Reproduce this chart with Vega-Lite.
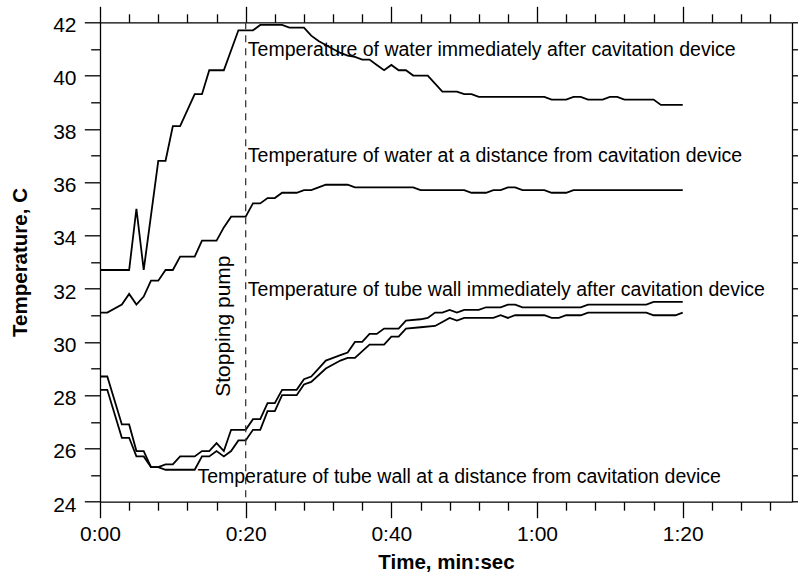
{
  "$schema": "https://vega.github.io/schema/vega-lite/v6.json",
  "width": 692,
  "height": 479.4,
  "autosize": {"type": "none"},
  "padding": {"left": 100, "top": 22.3, "right": 6, "bottom": 71.3},
  "background": "white",
  "config": {
    "view": {"stroke": null},
    "font": "Liberation Sans",
    "axis": {
      "grid": false,
      "labelFlush": false,
      "labelOverlap": false,
      "domainColor": "black",
      "domainWidth": 1.3,
      "tickColor": "black",
      "tickWidth": 1.3,
      "labelColor": "black",
      "labelFont": "Liberation Sans",
      "labelFontSize": 21,
      "titleFont": "Liberation Sans",
      "titleFontSize": 20.5,
      "titleFontWeight": "bold",
      "titleColor": "black"
    }
  },
  "datasets": {
    "series": [
      {"s": "W1", "t": 0, "v": 32.7}, {"s": "W1", "t": 4, "v": 32.7}, {"s": "W1", "t": 5, "v": 35.0}, {"s": "W1", "t": 6, "v": 32.7},
      {"s": "W1", "t": 8, "v": 36.8}, {"s": "W1", "t": 9, "v": 36.8}, {"s": "W1", "t": 10, "v": 38.1}, {"s": "W1", "t": 11, "v": 38.1},
      {"s": "W1", "t": 13, "v": 39.3}, {"s": "W1", "t": 14, "v": 39.3}, {"s": "W1", "t": 15, "v": 40.2}, {"s": "W1", "t": 17, "v": 40.2},
      {"s": "W1", "t": 19, "v": 41.7}, {"s": "W1", "t": 21, "v": 41.7}, {"s": "W1", "t": 22, "v": 41.9}, {"s": "W1", "t": 25, "v": 41.9},
      {"s": "W1", "t": 26, "v": 41.8}, {"s": "W1", "t": 28, "v": 41.8}, {"s": "W1", "t": 29, "v": 41.5}, {"s": "W1", "t": 30, "v": 41.3},
      {"s": "W1", "t": 31, "v": 41.15}, {"s": "W1", "t": 32, "v": 41.0}, {"s": "W1", "t": 33, "v": 40.85}, {"s": "W1", "t": 34, "v": 40.75},
      {"s": "W1", "t": 35, "v": 40.7}, {"s": "W1", "t": 36, "v": 40.6}, {"s": "W1", "t": 37, "v": 40.6}, {"s": "W1", "t": 38, "v": 40.4},
      {"s": "W1", "t": 39, "v": 40.2}, {"s": "W1", "t": 40, "v": 40.4}, {"s": "W1", "t": 41, "v": 40.2}, {"s": "W1", "t": 42, "v": 40.2},
      {"s": "W1", "t": 43, "v": 40.0}, {"s": "W1", "t": 45, "v": 40.0}, {"s": "W1", "t": 47, "v": 39.4}, {"s": "W1", "t": 49, "v": 39.4},
      {"s": "W1", "t": 50, "v": 39.3}, {"s": "W1", "t": 51, "v": 39.3}, {"s": "W1", "t": 52, "v": 39.2}, {"s": "W1", "t": 61, "v": 39.2},
      {"s": "W1", "t": 62, "v": 39.1}, {"s": "W1", "t": 64, "v": 39.1}, {"s": "W1", "t": 65, "v": 39.2}, {"s": "W1", "t": 66, "v": 39.2},
      {"s": "W1", "t": 67, "v": 39.1}, {"s": "W1", "t": 69, "v": 39.1}, {"s": "W1", "t": 70, "v": 39.2}, {"s": "W1", "t": 71, "v": 39.2},
      {"s": "W1", "t": 72, "v": 39.1}, {"s": "W1", "t": 76, "v": 39.1}, {"s": "W1", "t": 77, "v": 38.9}, {"s": "W1", "t": 80, "v": 38.9},

      {"s": "W2", "t": 0, "v": 31.1}, {"s": "W2", "t": 1, "v": 31.1}, {"s": "W2", "t": 3, "v": 31.4}, {"s": "W2", "t": 4, "v": 31.8},
      {"s": "W2", "t": 5, "v": 31.4}, {"s": "W2", "t": 6, "v": 31.7}, {"s": "W2", "t": 7, "v": 32.3}, {"s": "W2", "t": 8, "v": 32.3},
      {"s": "W2", "t": 9, "v": 32.7}, {"s": "W2", "t": 10, "v": 32.7}, {"s": "W2", "t": 11, "v": 33.2}, {"s": "W2", "t": 13, "v": 33.2},
      {"s": "W2", "t": 14, "v": 33.8}, {"s": "W2", "t": 16, "v": 33.8}, {"s": "W2", "t": 17, "v": 34.3}, {"s": "W2", "t": 18, "v": 34.7},
      {"s": "W2", "t": 20, "v": 34.7}, {"s": "W2", "t": 21, "v": 35.2}, {"s": "W2", "t": 22, "v": 35.2}, {"s": "W2", "t": 23, "v": 35.4},
      {"s": "W2", "t": 24, "v": 35.4}, {"s": "W2", "t": 25, "v": 35.6}, {"s": "W2", "t": 27, "v": 35.6}, {"s": "W2", "t": 28, "v": 35.7},
      {"s": "W2", "t": 29, "v": 35.7}, {"s": "W2", "t": 30, "v": 35.8}, {"s": "W2", "t": 31, "v": 35.9}, {"s": "W2", "t": 34, "v": 35.9},
      {"s": "W2", "t": 35, "v": 35.8}, {"s": "W2", "t": 43, "v": 35.8}, {"s": "W2", "t": 44, "v": 35.7}, {"s": "W2", "t": 50, "v": 35.7},
      {"s": "W2", "t": 51, "v": 35.6}, {"s": "W2", "t": 53, "v": 35.6}, {"s": "W2", "t": 54, "v": 35.7}, {"s": "W2", "t": 55, "v": 35.7},
      {"s": "W2", "t": 56, "v": 35.8}, {"s": "W2", "t": 57, "v": 35.8}, {"s": "W2", "t": 58, "v": 35.7}, {"s": "W2", "t": 61, "v": 35.7},
      {"s": "W2", "t": 62, "v": 35.6}, {"s": "W2", "t": 64, "v": 35.6}, {"s": "W2", "t": 65, "v": 35.7}, {"s": "W2", "t": 80, "v": 35.7},

      {"s": "TU", "t": 0, "v": 28.7}, {"s": "TU", "t": 1, "v": 28.7}, {"s": "TU", "t": 3, "v": 26.9}, {"s": "TU", "t": 4, "v": 26.9},
      {"s": "TU", "t": 5, "v": 25.9}, {"s": "TU", "t": 6, "v": 25.9}, {"s": "TU", "t": 7, "v": 25.3}, {"s": "TU", "t": 8, "v": 25.3},
      {"s": "TU", "t": 9, "v": 25.4}, {"s": "TU", "t": 10, "v": 25.4}, {"s": "TU", "t": 11, "v": 25.7}, {"s": "TU", "t": 13, "v": 25.7},
      {"s": "TU", "t": 14, "v": 25.9}, {"s": "TU", "t": 15, "v": 25.9}, {"s": "TU", "t": 16, "v": 26.2}, {"s": "TU", "t": 17, "v": 25.9},
      {"s": "TU", "t": 18, "v": 26.7}, {"s": "TU", "t": 20, "v": 26.7}, {"s": "TU", "t": 21, "v": 27.1}, {"s": "TU", "t": 22, "v": 27.1},
      {"s": "TU", "t": 23, "v": 27.7}, {"s": "TU", "t": 24, "v": 27.7}, {"s": "TU", "t": 25, "v": 28.2}, {"s": "TU", "t": 27, "v": 28.2},
      {"s": "TU", "t": 28, "v": 28.6}, {"s": "TU", "t": 29, "v": 28.7}, {"s": "TU", "t": 30, "v": 29.0}, {"s": "TU", "t": 31, "v": 29.3},
      {"s": "TU", "t": 32, "v": 29.4}, {"s": "TU", "t": 33, "v": 29.5}, {"s": "TU", "t": 34, "v": 29.6}, {"s": "TU", "t": 35, "v": 30.0},
      {"s": "TU", "t": 36, "v": 30.0}, {"s": "TU", "t": 37, "v": 30.3}, {"s": "TU", "t": 38, "v": 30.3}, {"s": "TU", "t": 39, "v": 30.5},
      {"s": "TU", "t": 41, "v": 30.5}, {"s": "TU", "t": 42, "v": 30.8}, {"s": "TU", "t": 44, "v": 30.85}, {"s": "TU", "t": 45, "v": 30.9},
      {"s": "TU", "t": 46, "v": 31.1}, {"s": "TU", "t": 47, "v": 31.1}, {"s": "TU", "t": 48, "v": 31.2}, {"s": "TU", "t": 49, "v": 31.1},
      {"s": "TU", "t": 50, "v": 31.2}, {"s": "TU", "t": 52, "v": 31.2}, {"s": "TU", "t": 53, "v": 31.3}, {"s": "TU", "t": 55, "v": 31.3},
      {"s": "TU", "t": 56, "v": 31.4}, {"s": "TU", "t": 57, "v": 31.4}, {"s": "TU", "t": 58, "v": 31.3}, {"s": "TU", "t": 66, "v": 31.3},
      {"s": "TU", "t": 67, "v": 31.4}, {"s": "TU", "t": 75, "v": 31.4}, {"s": "TU", "t": 76, "v": 31.5}, {"s": "TU", "t": 80, "v": 31.5},

      {"s": "TD", "t": 0, "v": 28.2}, {"s": "TD", "t": 1, "v": 28.2}, {"s": "TD", "t": 3, "v": 26.4}, {"s": "TD", "t": 4, "v": 26.4},
      {"s": "TD", "t": 5, "v": 25.7}, {"s": "TD", "t": 6, "v": 25.7}, {"s": "TD", "t": 7, "v": 25.3}, {"s": "TD", "t": 8, "v": 25.3},
      {"s": "TD", "t": 9, "v": 25.2}, {"s": "TD", "t": 13, "v": 25.2}, {"s": "TD", "t": 14, "v": 25.7}, {"s": "TD", "t": 15, "v": 25.7},
      {"s": "TD", "t": 16, "v": 25.9}, {"s": "TD", "t": 17, "v": 25.7}, {"s": "TD", "t": 18, "v": 25.9}, {"s": "TD", "t": 19, "v": 26.3},
      {"s": "TD", "t": 20, "v": 26.3}, {"s": "TD", "t": 21, "v": 26.7}, {"s": "TD", "t": 22, "v": 26.7}, {"s": "TD", "t": 23, "v": 27.4},
      {"s": "TD", "t": 24, "v": 27.4}, {"s": "TD", "t": 25, "v": 28.0}, {"s": "TD", "t": 27, "v": 28.0}, {"s": "TD", "t": 28, "v": 28.4},
      {"s": "TD", "t": 29, "v": 28.5}, {"s": "TD", "t": 31, "v": 29.0}, {"s": "TD", "t": 33, "v": 29.3}, {"s": "TD", "t": 34, "v": 29.4},
      {"s": "TD", "t": 35, "v": 29.4}, {"s": "TD", "t": 37, "v": 29.9}, {"s": "TD", "t": 39, "v": 29.9}, {"s": "TD", "t": 40, "v": 30.2},
      {"s": "TD", "t": 41, "v": 30.2}, {"s": "TD", "t": 42, "v": 30.5}, {"s": "TD", "t": 44, "v": 30.55}, {"s": "TD", "t": 46, "v": 30.6},
      {"s": "TD", "t": 47, "v": 30.75}, {"s": "TD", "t": 48, "v": 30.9}, {"s": "TD", "t": 49, "v": 30.8}, {"s": "TD", "t": 50, "v": 30.9},
      {"s": "TD", "t": 54, "v": 30.9}, {"s": "TD", "t": 55, "v": 31.0}, {"s": "TD", "t": 56, "v": 30.9}, {"s": "TD", "t": 57, "v": 31.0},
      {"s": "TD", "t": 61, "v": 31.0}, {"s": "TD", "t": 62, "v": 30.9}, {"s": "TD", "t": 63, "v": 30.9}, {"s": "TD", "t": 64, "v": 31.0},
      {"s": "TD", "t": 66, "v": 31.0}, {"s": "TD", "t": 67, "v": 31.1}, {"s": "TD", "t": 75, "v": 31.1}, {"s": "TD", "t": 76, "v": 31.0},
      {"s": "TD", "t": 79, "v": 31.0}, {"s": "TD", "t": 80, "v": 31.1}
    ],
    "labels": [
      {"t": 20.3, "v": 40.75, "text": "Temperature of water immediately after cavitation device"},
      {"t": 20.3, "v": 36.77, "text": "Temperature of water at a distance from cavitation device"},
      {"t": 20.3, "v": 31.73, "text": "Temperature of tube wall immediately after cavitation device"},
      {"t": 13.37, "v": 24.71, "text": "Temperature of tube wall at a distance from cavitation device"}
    ],
    "pump": [{"t": 17.86, "v": 27.94, "text": "Stopping pump"}],
    "stop": [{"t": 20}]
  },
  "resolve": {"axis": {"x": "independent", "y": "independent"}},
  "layer": [
    {
      "data": {"name": "series"},
      "mark": {"type": "line", "color": "black", "strokeWidth": 1.8, "interpolate": "linear"},
      "encoding": {
        "x": {"field": "t", "type": "quantitative",
          "scale": {"domain": [0, 95], "nice": false, "zero": false},
          "axis": {"orient": "bottom", "values": [0, 20, 40, 60, 80], "tickSize": 16, "labelPadding": 22.7,
            "labelBaseline": "alphabetic", "labelAlign": "center",
            "labelExpr": "floor(datum.value/60) + ':' + (datum.value % 60 < 10 ? '0' : '') + (datum.value % 60)",
            "title": "Time, min:sec", "titleBaseline": "alphabetic", "titleY": 66.5}},
        "y": {"field": "v", "type": "quantitative",
          "scale": {"domain": [24, 42], "nice": false, "zero": false},
          "axis": {"orient": "left", "values": [24, 26, 28, 30, 32, 34, 36, 38, 40, 42], "tickSize": 15.7, "labelPadding": 8.3,
            "labelBaseline": "alphabetic", "labelOffset": 9.4,
            "title": "Temperature, C", "titleBaseline": "alphabetic", "titleAngle": 270, "titleX": -73.3, "titleY": 239.7}},
        "detail": {"field": "s"}
      }
    },
    {
      "data": {"name": "stop"},
      "mark": {"type": "rule", "color": "#3a3a3a", "strokeWidth": 1.3, "strokeDash": [7, 6]},
      "encoding": {
        "x": {"field": "t", "type": "quantitative",
          "scale": {"domain": [0, 95], "nice": false, "zero": false},
          "axis": {"orient": "bottom", "values": [4, 8, 12, 16, 24, 28, 32, 36, 44, 48, 52, 56, 64, 68, 72, 76, 84, 88, 92],
            "tickSize": 8.5, "labels": false, "domain": false, "title": null}}
      }
    },
    {
      "data": {"name": "labels"},
      "mark": {"type": "text", "align": "left", "baseline": "alphabetic", "fontSize": 19.5, "font": "Liberation Sans", "color": "black"},
      "encoding": {
        "x": {"field": "t", "type": "quantitative",
          "scale": {"domain": [0, 95], "nice": false, "zero": false},
          "axis": {"orient": "top", "values": [0, 20, 40, 60, 80], "tickSize": 16, "labels": false, "title": null}},
        "y": {"field": "v", "type": "quantitative",
          "scale": {"domain": [24, 42], "nice": false, "zero": false},
          "axis": {"orient": "left", "values": [25, 27, 29, 31, 33, 35, 37, 39, 41], "tickSize": 9.3, "labels": false, "domain": false, "title": null}},
        "text": {"field": "text"}
      }
    },
    {
      "data": {"name": "pump"},
      "mark": {"type": "text", "align": "left", "baseline": "alphabetic", "angle": 270, "fontSize": 21, "font": "Liberation Sans", "color": "black"},
      "encoding": {
        "x": {"field": "t", "type": "quantitative",
          "scale": {"domain": [0, 95], "nice": false, "zero": false},
          "axis": {"orient": "top", "values": [4, 8, 12, 16, 24, 28, 32, 36, 44, 48, 52, 56, 64, 68, 72, 76, 84, 88, 92],
            "tickSize": 8.5, "labels": false, "domain": false, "title": null}},
        "y": {"field": "v", "type": "quantitative",
          "scale": {"domain": [24, 42], "nice": false, "zero": false},
          "axis": {"orient": "right", "values": [24, 25, 26, 27, 28, 29, 30, 31, 32, 33, 34, 35, 36, 37, 38, 39, 40, 41, 42],
            "tickSize": 7, "labels": false, "title": null}},
        "text": {"field": "text"}
      }
    }
  ]
}
